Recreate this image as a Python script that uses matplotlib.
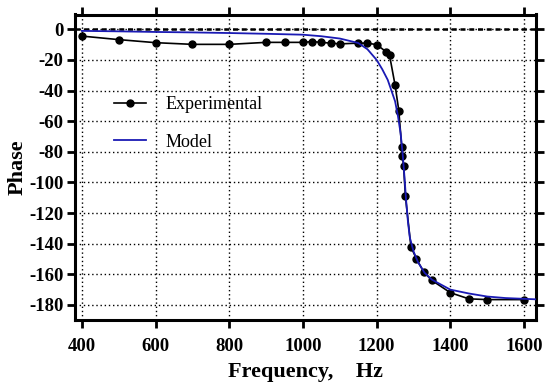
import matplotlib
matplotlib.use("Agg")
import matplotlib.pyplot as plt

exp_freq = [400, 500, 600, 700, 800, 900, 950, 1000, 1025, 1050, 1075, 1100, 1150, 1175, 1200,
            1225, 1235, 1250, 1260, 1268, 1270, 1273, 1278, 1293, 1308, 1328, 1350, 1400, 1450,
            1500, 1600]
exp_phase = [-4.4, -6.7, -8.7, -9.8, -9.8, -8.5, -8.5, -8.5, -8.0, -8.5, -9.0, -9.5, -9.0, -9.0, -10.0,
             -14.5, -17.0, -36.5, -53.0, -77.0, -83.0, -89.0, -109.0, -142.0, -150.0, -158.5, -164.0,
             -172.0, -176.0, -176.5, -176.5]

model_freq = [400, 500, 600, 700, 800, 900, 1000, 1050, 1100, 1150, 1175, 1200, 1215, 1230, 1240,
              1250, 1258, 1265, 1270, 1275, 1280, 1285, 1290, 1300, 1312, 1330, 1350, 1400, 1450,
              1500, 1550, 1600, 1630]
model_phase = [-1.0, -1.3, -1.7, -2.0, -2.4, -2.9, -3.5, -4.5, -6.0, -8.9, -13.0, -20.0, -26.0, -33.0,
               -40.0, -47.0, -57.0, -68.0, -80.0, -95.0, -112.0, -126.0, -136.0, -145.0, -152.0,
               -159.0, -163.5, -170.0, -172.5, -174.5, -175.5, -176.0, -176.3]

xticks = [400, 600, 800, 1000, 1200, 1400, 1600]
yticks = [0, -20, -40, -60, -80, -100, -120, -140, -160, -180]

plt.rcParams['font.family'] = ['Liberation Serif', 'DejaVu Serif']

W, H = 550, 385
fig = plt.figure(figsize=(5.5, 3.85), dpi=100)
left, right, top, bottom = 74.5, 535.5, 14.5, 319.5
ax = fig.add_axes([left / W, 1 - bottom / H, (right - left) / W, (bottom - top) / H])

ax.set_xlim(380, 1631)
ax.set_ylim(-189.5, 9.7)

ax.grid(True, linestyle=(0, (1, 2)), color='black', linewidth=1)
ax.axhline(0, color='black', linestyle=(0, (2, 1.5)), linewidth=1.8, zorder=1.5)

ax.plot(exp_freq, exp_phase, color='black', marker='o', markersize=5, linewidth=1.2,
        label='Experimental', zorder=3)
ax.plot(model_freq, model_phase, color='#1a1ab4', linewidth=1.3, label='Model', zorder=4)

ax.set_xticks(xticks)
ax.set_yticks(yticks)
ax.set_xticklabels([str(v) for v in xticks], fontweight='bold', fontsize=13.5)
ax.set_yticklabels([str(v) for v in yticks], fontweight='bold', fontsize=13.5)
ax.tick_params(direction='out', length=6, width=2, top=True, right=True)
ax.tick_params(axis='x', labeltop=False, pad=7)
ax.tick_params(axis='y', labelright=False, pad=2)
for s in ax.spines.values():
    s.set_linewidth(2.2)

ax.set_xlabel('Frequency,    Hz', fontweight='bold', fontsize=16, labelpad=5)
ax.set_ylabel('Phase', fontweight='bold', fontsize=16, labelpad=1)

ax.legend(loc='upper left', bbox_to_anchor=(0.07, 0.755), frameon=False, fontsize=13,
          handlelength=1.8, labelspacing=1.12, handletextpad=1.05, borderaxespad=0.0)

fig.savefig('out.png', dpi=100)
